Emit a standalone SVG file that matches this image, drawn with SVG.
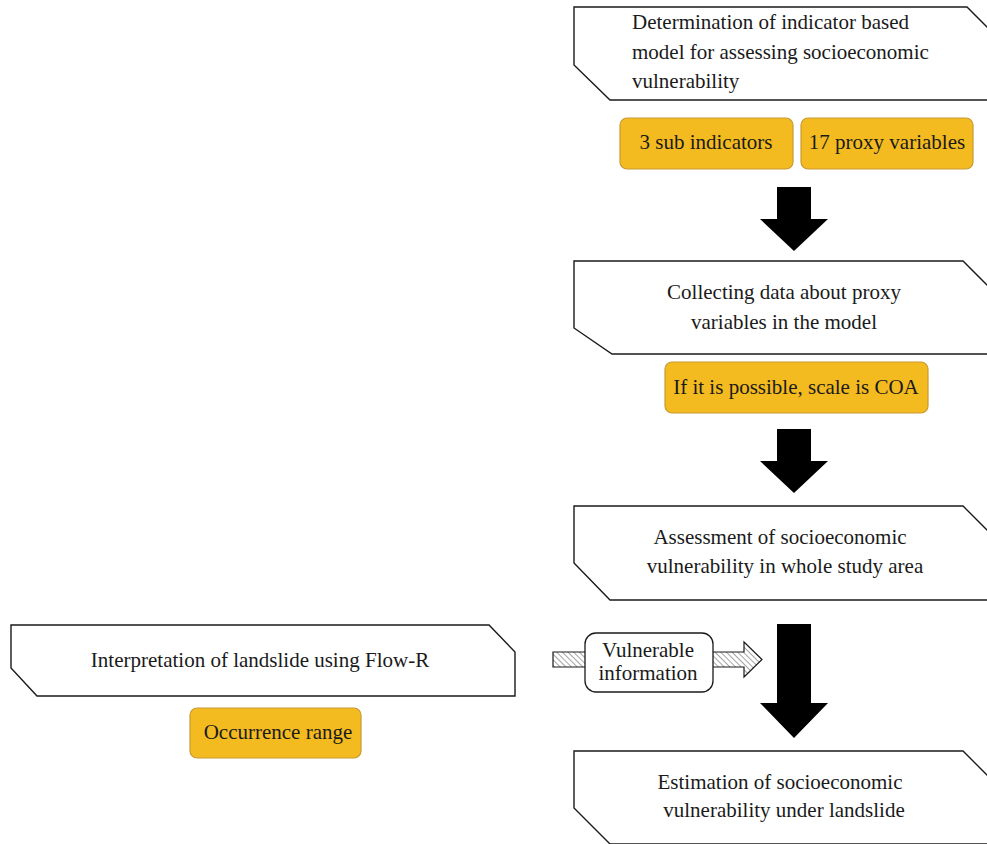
<svg xmlns="http://www.w3.org/2000/svg" width="987" height="844" viewBox="0 0 987 844">
<defs>
<style>
.box{fill:#fff;stroke:#1a1a1a;stroke-width:1.4}
.tag{fill:#F4BB20;stroke:#C79A33;stroke-width:1.2}
.t{font-family:"Liberation Serif","Times New Roman",serif;font-size:21px;fill:#1a1a1a}
.c{text-anchor:middle}
.big{fill:#000}
</style>
<pattern id="hatch" patternUnits="userSpaceOnUse" width="4" height="4" patternTransform="rotate(-45)">
<rect width="4" height="4" fill="#fff"/>
<line x1="0" y1="0" x2="0" y2="4" stroke="#666" stroke-width="1.2"/>
</pattern>
</defs>

<g id="connectors">
<polygon class="big" points="777,187 811,187 811,219 828,219 794,251 760,219 777,219"/>
<polygon class="big" points="777,429 811,429 811,461 828,461 794,493 760,461 777,461"/>
<polygon class="big" points="777,624 811,624 811,703 828,703 794,738 760,703 777,703"/>
<polygon points="553,652 744,652 744,642 762,659.5 744,677 744,667 553,667" fill="url(#hatch)" stroke="#1a1a1a" stroke-width="1.2"/>
</g>

<g id="n1">
<path class="box" d="M574,7 L967,7 L1010,50 V100 H610 L574,65 Z"/>
<text class="t" x="632" y="29">Determination of indicator based</text>
<text class="t" x="632" y="59">model for assessing socioeconomic</text>
<text class="t" x="632" y="88">vulnerability</text>
</g>

<g id="n1a">
<rect class="tag" x="620" y="118" width="173" height="51" rx="7"/>
<text class="t c" x="706" y="149">3 sub indicators</text>
</g>
<g id="n1b">
<rect class="tag" x="801" y="118" width="172" height="51" rx="7"/>
<text class="t c" x="887" y="149">17 proxy variables</text>
</g>

<g id="n2">
<path class="box" d="M574,261 L963,261 L1010,308 V354 H612 L574,328 Z"/>
<text class="t c" x="784" y="299">Collecting data about proxy</text>
<text class="t c" x="784" y="329">variables in the model</text>
</g>

<g id="n2a">
<rect class="tag" x="665" y="362" width="263" height="51" rx="7"/>
<text class="t c" x="796" y="394">If it is possible, scale is COA</text>
</g>

<g id="n3">
<path class="box" d="M574,506 L963,506 L1010,553 V600 H610 L574,563 Z"/>
<text class="t c" x="780" y="544">Assessment of socioeconomic</text>
<text class="t c" x="785" y="573">vulnerability in whole study area</text>
</g>

<g id="n4">
<path class="box" d="M574,751 L963,751 L1010,798 V844 H610 L574,808 Z"/>
<text class="t c" x="780" y="789">Estimation of socioeconomic</text>
<text class="t c" x="784" y="817">vulnerability under landslide</text>
</g>

<g id="n5">
<path class="box" d="M11,625 L489,625 L515,652 V696 H37 L11,668 Z"/>
<text class="t c" x="260" y="667">Interpretation of landslide using Flow-R</text>
</g>

<g id="n5a">
<rect class="tag" x="190" y="708" width="171" height="50" rx="7"/>
<text class="t c" x="278" y="739">Occurrence range</text>
</g>

<g id="n6">
<rect x="585" y="633" width="128" height="59" rx="11" fill="#fff" stroke="#1a1a1a" stroke-width="1.3"/>
<text class="t c" x="648" y="657">Vulnerable</text>
<text class="t c" x="648" y="680">information</text>
</g>
</svg>
